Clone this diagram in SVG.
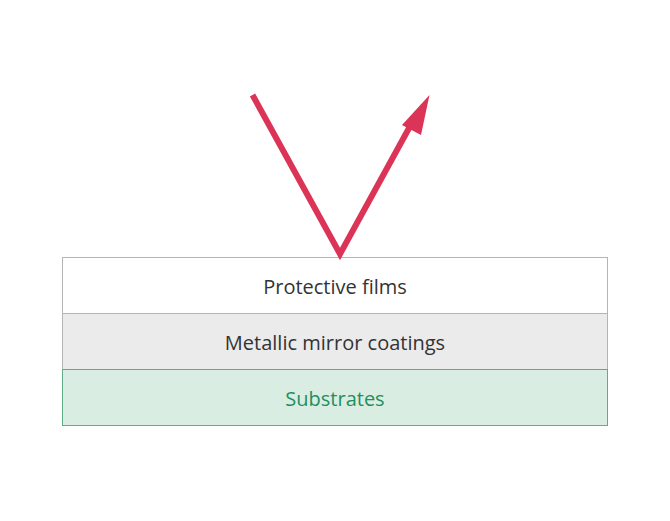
<svg xmlns="http://www.w3.org/2000/svg" width="670" height="521" viewBox="0 0 670 521">
<style>
.lbl{font-family:"Open Sans","Liberation Sans",sans-serif;font-size:20px;text-anchor:middle;font-variant-ligatures:none}
.dark{fill:#333333}
.green{fill:#1f8f5f}
.ray{fill:none;stroke:#dc3456;stroke-width:6;stroke-linejoin:miter}
</style>
<rect width="670" height="521" fill="#ffffff"/>
<g id="layer-protective">
<rect x="62.5" y="257.5" width="545" height="56" fill="#ffffff" stroke="#b5b5b5" stroke-width="1"/>
<text class="lbl dark" x="335" y="293.5">Protective films</text>
</g>
<g id="layer-metallic">
<rect x="62.5" y="313.5" width="545" height="56" fill="#ebebeb" stroke="#b5b5b5" stroke-width="1"/>
<text class="lbl dark" x="335" y="349.5">Metallic mirror coatings</text>
</g>
<g id="layer-substrates">
<rect x="62.5" y="369.5" width="545" height="56" fill="#d9ede3" stroke="#5fae86" stroke-width="1"/>
<text class="lbl green" x="335" y="405.5">Substrates</text>
</g>
<g id="connectors">
<polyline class="ray" points="252.5,95 340,254 414,119"/>
<path d="M429.5,95 L402,125 L421,135 Z" fill="#dc3456"/>
</g>
</svg>
